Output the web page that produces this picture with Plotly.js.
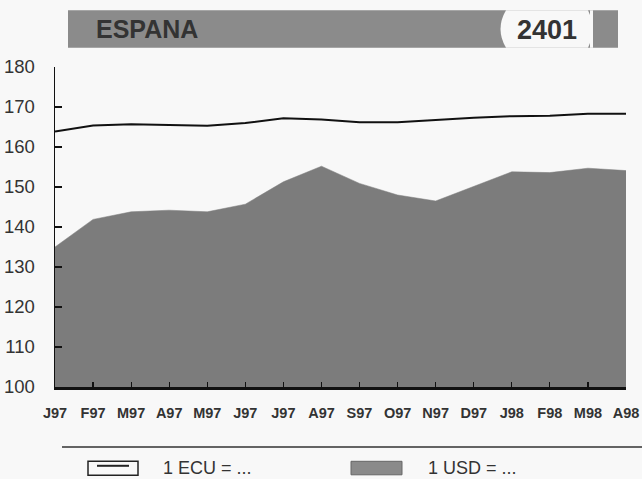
<!DOCTYPE html>
<html>
<head>
<meta charset="utf-8">
<script src="https://cdn.plot.ly/plotly-3.0.1.min.js"></script>
<style>
html,body{margin:0;padding:0;background:#f8f8f8;}
#chart{width:642px;height:479px;}
</style>
</head>
<body>
<div id="chart"></div>
<script>
const months = ['J97','F97','M97','A97','M97','J97','J97','A97','S97','O97','N97','D97','J98','F98','M98','A98'];
const ecu = [163.9,165.4,165.7,165.5,165.3,166.0,167.2,166.9,166.2,166.2,166.8,167.3,167.7,167.8,168.3,168.3];
const usd = [135.0,141.9,143.8,144.2,143.8,145.7,151.3,155.2,150.9,148.0,146.5,150.1,153.8,153.6,154.7,154.1];
const yTicks = [100,110,120,130,140,150,160,170,180];
const country = 'ESPANA';
const code = '2401';
const legendLabels = ['1 ECU = ...','1 USD = ...'];

const xs = months.map((_, i) => i);

// layout geometry (pixels)
const W = 642, H = 479;
const L = 55, R = 16, T = 66.7, B = 92.3;
const PW = W - L - R, PH = H - T - B;
const X = px => (px - L) / PW;
const Y = py => (H - B - py) / PH;

const traces = [
  {
    x: xs, y: usd, type: 'scatter', mode: 'lines',
    fill: 'tozeroy', fillcolor: '#7c7c7c',
    line: {color: '#7c7c7c', width: 0.5},
    hoverinfo: 'skip', showlegend: false
  },
  {
    x: xs, y: ecu, type: 'scatter', mode: 'lines',
    line: {color: '#111', width: 2},
    hoverinfo: 'skip', showlegend: false
  }
];

const shapes = [
  // title bar
  {type: 'rect', xref: 'paper', yref: 'paper', x0: X(68), x1: X(618), y0: Y(47.5), y1: Y(10),
   fillcolor: '#8b8b8b', line: {width: 0}, layer: 'above'},
  {type: 'path', xref: 'paper', yref: 'paper',
   path: `M ${X(506)},${Y(10)} Q ${X(495)},${Y(28.75)} ${X(506)},${Y(47.5)} L ${X(588)},${Y(47.5)} Q ${X(597)},${Y(28.75)} ${X(588)},${Y(10)} Z`,
   fillcolor: '#f8f8f8', line: {width: 0}, layer: 'above'},
  {type: 'rect', xref: 'paper', yref: 'paper', x0: X(590), x1: X(593), y0: Y(47.5), y1: Y(10),
   fillcolor: '#f8f8f8', line: {width: 0}, layer: 'above'},
  // separator line
  {type: 'line', xref: 'paper', yref: 'paper', x0: X(62), x1: X(642), y0: Y(446.7), y1: Y(446.7),
   line: {color: '#333', width: 1.5}},
  // legend: ECU box
  {type: 'rect', xref: 'paper', yref: 'paper', x0: X(88), x1: X(138), y0: Y(475), y1: Y(461),
   fillcolor: 'rgba(0,0,0,0)', line: {color: '#222', width: 1.5}},
  {type: 'line', xref: 'paper', yref: 'paper', x0: X(97), x1: X(129), y0: Y(465.5), y1: Y(465.5),
   line: {color: '#222', width: 2}},
  // legend: USD box
  {type: 'rect', xref: 'paper', yref: 'paper', x0: X(351), x1: X(402), y0: Y(474.5), y1: Y(461),
   fillcolor: '#8a8a8a', line: {color: '#666', width: 1}}
];

const annotations = [
  {xref: 'paper', yref: 'paper', x: X(94), y: Y(29), xanchor: 'left', yanchor: 'middle',
   text: country, showarrow: false,
   font: {family: 'Liberation Sans, Arial, sans-serif', size: 25, color: '#333', weight: 700}},
  {xref: 'paper', yref: 'paper', x: X(547), y: Y(29.5), xanchor: 'center', yanchor: 'middle',
   text: code, showarrow: false,
   font: {family: 'Liberation Sans, Arial, sans-serif', size: 27, color: '#333', weight: 700}},
  {xref: 'paper', yref: 'paper', x: X(161), y: Y(467.5), xanchor: 'left', yanchor: 'middle',
   text: legendLabels[0], showarrow: false,
   font: {family: 'Liberation Sans, Arial, sans-serif', size: 18, color: '#333'}},
  {xref: 'paper', yref: 'paper', x: X(426), y: Y(467.5), xanchor: 'left', yanchor: 'middle',
   text: legendLabels[1], showarrow: false,
   font: {family: 'Liberation Sans, Arial, sans-serif', size: 18, color: '#333'}}
];

const layout = {
  width: W, height: H,
  margin: {l: L, r: R, t: T, b: B, pad: 0},
  paper_bgcolor: '#f8f8f8', plot_bgcolor: '#f8f8f8',
  showlegend: false,
  xaxis: {
    range: [0, 15], tickvals: xs, ticktext: months,
    showgrid: false, zeroline: false,
    showline: true, linecolor: '#111', linewidth: 2.5,
    ticks: 'inside', ticklen: 5, tickwidth: 1.2, tickcolor: '#111',
    ticklabelstandoff: 11,
    tickfont: {family: 'Liberation Sans, Arial, sans-serif', size: 14.5, color: '#333', weight: 700},
    fixedrange: true
  },
  yaxis: {
    range: [100, 180], tickvals: yTicks,
    showgrid: false, zeroline: false,
    showline: true, linecolor: '#111', linewidth: 1.5,
    ticks: 'inside', ticklen: 7, tickwidth: 1.5, tickcolor: '#111',
    ticklabelstandoff: 15,
    tickfont: {family: 'Liberation Sans, Arial, sans-serif', size: 18.5, color: '#333'},
    fixedrange: true
  },
  shapes: shapes,
  annotations: annotations
};

Plotly.newPlot('chart', traces, layout, {staticPlot: true, displayModeBar: false});
</script>
</body>
</html>
